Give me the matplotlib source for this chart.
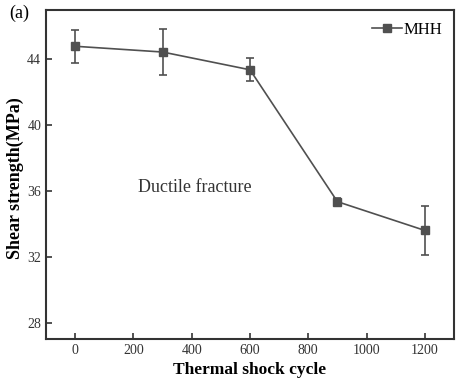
import matplotlib
matplotlib.use("Agg")
import matplotlib.pyplot as plt

cycles = [0, 300, 600, 900, 1200]
strength = [44.8, 44.45, 43.37, 35.35, 33.6]
errors = [1.0, 1.4, 0.7, 0.2, 1.5]
series_name = "MHH"
xticks = [0, 200, 400, 600, 800, 1000, 1200]
yticks = [28, 32, 36, 40, 44]

plt.rcParams['font.family'] = ['Liberation Serif', 'DejaVu Serif']
col = '#505050'

fig = plt.figure(figsize=(4.62, 3.88), dpi=100)
ax = fig.add_axes([0.0996, 0.1263, 0.8831, 0.8477])
ax.errorbar(cycles, strength, yerr=errors, color=col, fmt='none',
            capsize=3, elinewidth=1.2, capthick=1.2)
ax.plot(cycles, strength, color=col, marker='s', markersize=6,
        linewidth=1.2, label=series_name)
ax.set_xlim(-100, 1300)
ax.set_ylim(27, 47)
ax.set_xticks(xticks)
ax.set_yticks(yticks)
ax.tick_params(direction='in', length=4, width=1.2, labelsize=10, colors='#333333')
for s in ax.spines.values():
    s.set_linewidth(1.5)
    s.set_color('#333333')
ax.set_xlabel("Thermal shock cycle", fontsize=12.5, fontweight='bold', labelpad=4)
ax.set_ylabel("Shear strength(MPa)", fontsize=13, fontweight='bold')
ax.yaxis.set_label_coords(-0.053, 0.49)
ax.text(409, 36.24, "Ductile fracture", fontsize=13, ha='center', va='center', color='#333333')
leg = ax.legend(loc='upper right', frameon=False, fontsize=12, handlelength=1.8,
                handletextpad=0.1, borderaxespad=0.3)
fig.text(0.02, 0.965, "(a)", fontsize=13, ha='left', va='center')
fig.savefig("out.png", dpi=100)
